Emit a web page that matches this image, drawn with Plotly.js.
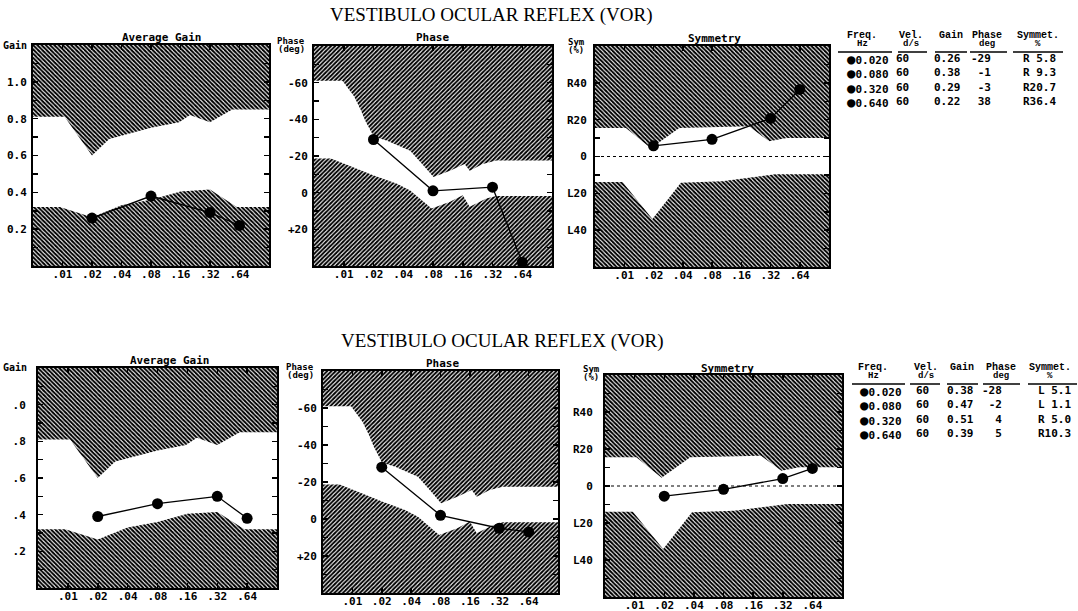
<!DOCTYPE html>
<html>
<head>
<meta charset="utf-8">
<script src="https://cdn.plot.ly/plotly-3.0.1.min.js"></script>
<style>html,body{margin:0;padding:0;background:#fff;}#chart{width:1078px;height:611px;}</style>
</head>
<body>
<div id="chart"></div>
<script>
// ---------------- data ----------------
const freqTicks = [0.01, 0.02, 0.04, 0.08, 0.16, 0.32, 0.64];
const freqTickText = ['.01', '.02', '.04', '.08', '.16', '.32', '.64'];
const testFreq = [0.02, 0.08, 0.32, 0.64];

// plotted results (top test / bottom test)
const gainTop = [0.26, 0.38, 0.29, 0.22];
const phaseTop = [-29, -1, -3, 38];
const symTop = [5.8, 9.3, 20.7, 36.4];
const gainBot = [0.39, 0.46, 0.50, 0.38];
const phaseBot = [-28, -2, 5, 7];
const symBot = [-5.5, -1.8, 4, 9.5];

// table values
const tblVel = [60, 60, 60, 60];
const tblGainTop = [0.26, 0.38, 0.29, 0.22];
const tblPhaseTop = [-29, -1, -3, 38];
const tblSymTop = [5.8, 9.3, 20.7, 36.4];
const tblGainBot = [0.38, 0.47, 0.51, 0.39];
const tblPhaseBot = [-28, -2, 4, 5];
const tblSymBot = [-5.1, -1.1, 5.0, 10.3];

// normal limits (boundaries of shaded abnormal regions)
const gainUpFreq = [0.005, 0.0105, 0.02, 0.03, 0.08, 0.155, 0.2, 0.32, 0.54, 1.28];
const gainUpVal = [0.81, 0.81, 0.60, 0.69, 0.75, 0.78, 0.82, 0.78, 0.85, 0.85];
const gainLoFreq = [0.005, 0.0094, 0.02, 0.04, 0.08, 0.16, 0.32, 0.6, 1.28];
const gainLoVal = [0.32, 0.32, 0.265, 0.33, 0.36, 0.405, 0.415, 0.32, 0.32];

const phaseUpFreq = [0.005, 0.0097, 0.0127, 0.0148, 0.0166, 0.0201, 0.0275, 0.0359, 0.047, 0.064, 0.081, 0.119, 0.167, 0.188, 0.255, 0.35, 1.28];
const phaseUpVal = [-61, -61, -52.6, -45.4, -39, -30.6, -28.3, -25.6, -22.9, -14.8, -8.5, -12, -15.7, -12, -15.7, -17.5, -17.5];
const phaseLoFreq = [0.005, 0.0074, 0.0109, 0.0201, 0.0346, 0.047, 0.0775, 0.119, 0.16, 0.188, 0.277, 0.35, 1.28];
const phaseLoVal = [-18.7, -18.7, -15.1, -9.4, -4.9, -1.2, 8.6, 5, 1.4, 7.7, 3.2, 1.8, 1.8];

const symUpFreq = [0.005, 0.0104, 0.0188, 0.0368, 0.192, 0.31, 0.47, 1.28];
const symUpVal = [15.5, 15.5, 4.5, 15.5, 16.4, 8.3, 10.1, 10.1];
const symLoFreq = [0.005, 0.0096, 0.0195, 0.0383, 0.102, 0.36, 1.28];
const symLoVal = [-13.9, -13.9, -34, -14.2, -13.4, -9.7, -9.7];

const gainTickVals = [0.1, 0.2, 0.3, 0.4, 0.5, 0.6, 0.7, 0.8, 0.9, 1.0, 1.1];
const gainTickText = ['', '0.2', '', '0.4', '', '0.6', '', '0.8', '', '1.0', ''];
const phaseTickVals = [-70, -60, -50, -40, -30, -20, -10, 0, 10, 20, 30];
const phaseTickText = ['', '-60', '', '-40', '', '-20', '', '0', '', '+20', ''];
const symTickVals = [-50, -40, -30, -20, -10, 0, 10, 20, 30, 40, 50];
const symTickText = ['', 'L40', '', 'L20', '', '0', '', 'R20', '', 'R40', ''];

// ---------------- layout helpers ----------------
const W = 1078, H = 611;
const PX = x => x / W;
const PY = y => 1 - y / H;
const MONO = 'DejaVu Sans Mono';
const HEAD = 'Liberation Mono';

const kinds = {
  gain: {range: [0, 1.2], up: [gainUpFreq, gainUpVal], lo: [gainLoFreq, gainLoVal], tv: gainTickVals, tt: gainTickText, hatch: '\\', title: 'Average Gain'},
  phase: {range: [40, -80], up: [phaseUpFreq, phaseUpVal], lo: [phaseLoFreq, phaseLoVal], tv: phaseTickVals, tt: phaseTickText, hatch: '/', title: 'Phase'},
  sym: {range: [-60, 60], up: [symUpFreq, symUpVal], lo: [symLoFreq, symLoVal], tv: symTickVals, tt: symTickText, hatch: '\\', title: 'Symmetry'}
};

const panels = [
  {n: '', kind: 'gain', px: [33, 269], py: [45, 266], pts: gainTop, tx: 161, ty: 37, ys: 2},
  {n: '2', kind: 'phase', px: [314, 552], py: [46, 266], pts: phaseTop, tx: 432, ty: 37, ys: 2},
  {n: '3', kind: 'sym', px: [595, 829], py: [46, 267], pts: symTop, tx: 714, ty: 38, ys: 4},
  {n: '4', kind: 'gain', px: [38, 277], py: [368, 588], pts: gainBot, tx: 169, ty: 360, ys: 8},
  {n: '5', kind: 'phase', px: [323, 558], py: [371, 593], pts: phaseBot, tx: 442, ty: 363, ys: 2},
  {n: '6', kind: 'sym', px: [605, 842], py: [375, 597], pts: symBot, tx: 727, ty: 368, ys: 8}
];

const traces = [];
const layout = {
  width: W, height: H,
  margin: {l: 0, r: 0, t: 0, b: 0},
  showlegend: false,
  paper_bgcolor: '#ffffff',
  plot_bgcolor: '#ffffff',
  annotations: [],
  shapes: []
};

const tickFont = {family: MONO, size: 11, color: '#000', weight: 700};

function region(freqs, vals, edge, xa, ya, hatch) {
  const n = freqs.length;
  return {
    x: freqs.concat([freqs[n - 1], freqs[0]]),
    y: vals.concat([edge, edge]),
    xaxis: xa, yaxis: ya,
    type: 'scatter', mode: 'lines',
    fill: 'toself',
    fillcolor: '#ffffff',
    fillpattern: {shape: hatch, size: 3, solidity: 0.65, fgcolor: '#000000', bgcolor: '#ffffff', fgopacity: 1},
    line: {width: 0, color: 'rgba(0,0,0,0)'},
    hoverinfo: 'skip'
  };
}

panels.forEach(p => {
  const k = kinds[p.kind];
  const xa = 'x' + p.n, ya = 'y' + p.n;
  const xKey = 'xaxis' + p.n, yKey = 'yaxis' + p.n;
  layout[xKey] = {
    domain: [PX(p.px[0]), PX(p.px[1])],
    anchor: ya,
    type: 'log',
    range: [Math.log10(0.005), Math.log10(1.28)],
    tickvals: freqTicks, ticktext: freqTickText,
    ticks: 'inside', ticklen: 5, tickwidth: 1.5, tickcolor: '#000',
    showline: true, linecolor: '#000', linewidth: 2, mirror: 'ticks',
    showgrid: false, zeroline: false, ticklabelstandoff: -3,
    tickfont: tickFont, fixedrange: true
  };
  layout[yKey] = {
    domain: [PY(p.py[1]), PY(p.py[0])],
    anchor: xa,
    range: k.range,
    tickvals: k.tv, ticktext: k.tt,
    ticks: 'inside', ticklen: 5, tickwidth: 1.5, tickcolor: '#000',
    showline: true, linecolor: '#000', linewidth: 2, mirror: 'ticks',
    showgrid: false, zeroline: false, ticklabelstandoff: p.ys,
    tickfont: tickFont, fixedrange: true
  };
  traces.push(region(k.up[0], k.up[1], k.range[1], xa, ya, k.hatch));
  traces.push(region(k.lo[0], k.lo[1], k.range[0], xa, ya, k.hatch));
  if (p.kind === 'sym') {
    layout.shapes.push({type: 'line', layer: 'below', xref: xa + ' domain', yref: ya, x0: 0, x1: 1, y0: 0, y1: 0,
      line: {color: '#000', width: 1.2, dash: 'dot'}});
  }
  traces.push({
    x: testFreq, y: p.pts, xaxis: xa, yaxis: ya,
    type: 'scatter', mode: 'lines+markers',
    line: {color: '#000', width: 1.3},
    marker: {color: '#000', size: 11},
    hoverinfo: 'skip'
  });
  layout.annotations.push({
    xref: 'paper', yref: 'paper', x: PX(p.tx), y: PY(p.ty),
    xanchor: 'center', yanchor: 'middle', showarrow: false,
    text: k.title, font: {family: MONO, size: 11, color: '#000', weight: 700}
  });
});

function note(text, x, y, size, xanchor, fam) {
  layout.annotations.push({
    xref: 'paper', yref: 'paper', x: PX(x), y: PY(y),
    xanchor: xanchor || 'center', yanchor: 'middle', showarrow: false,
    text: text, font: {family: fam || MONO, size: size, color: '#000', weight: 700}
  });
}

// axis labels
note('Gain', 1, 45, 10, 'left');
note('Gain', 1, 367, 10, 'left');
note('Phase', 291, 41, 9); note('(deg)', 291, 49, 9);
note('Phase', 300, 367, 9); note('(deg)', 300, 375, 9);
note('Sym', 576, 42, 9); note('(%)', 576, 50, 9);
note('Sym', 591, 369, 9); note('(%)', 591, 377, 9);

// main titles
const mainTitle = 'VESTIBULO OCULAR REFLEX (VOR)';
layout.annotations.push({xref: 'paper', yref: 'paper', x: PX(491), y: PY(15), xanchor: 'center', yanchor: 'middle', showarrow: false,
  text: mainTitle, font: {family: 'Liberation Serif', size: 19, color: '#000'}});
layout.annotations.push({xref: 'paper', yref: 'paper', x: PX(502), y: PY(341), xanchor: 'center', yanchor: 'middle', showarrow: false,
  text: mainTitle, font: {family: 'Liberation Serif', size: 19, color: '#000'}});

// tables
function symText(v) { return (v >= 0 ? 'R' : 'L') + Math.abs(v).toFixed(1).padStart(4, ' '); }
function table(gains, phases, syms, cfg) {
  const hs = cfg.head;
  note('Freq.', hs[0], cfg.h1, 10, 'center', HEAD); note('Hz', hs[0], cfg.h2, 9, 'center', HEAD);
  note('Vel.', hs[1], cfg.h1, 10, 'center', HEAD); note('d/s', hs[1], cfg.h2, 9, 'center', HEAD);
  note('Gain', hs[2], cfg.h1, 10, 'center', HEAD);
  note('Phase', hs[3], cfg.h1, 10, 'center', HEAD); note('deg', hs[3], cfg.h2, 9, 'center', HEAD);
  note('Symmet.', hs[4], cfg.h1, 10, 'center', HEAD); note('%', hs[4], cfg.h2, 9, 'center', HEAD);
  cfg.lines.forEach(s => layout.shapes.push({type: 'line', xref: 'paper', yref: 'paper',
    x0: PX(s[0]), x1: PX(s[1]), y0: PY(cfg.ly), y1: PY(cfg.ly), line: {color: '#000', width: 1.5}}));
  const cols = [
    testFreq.map(f => '<span style="font-size:14px">●</span>' + f.toFixed(3)),
    tblVel.map(v => String(v)),
    gains.map(g => g.toFixed(2)),
    phases.map(v => String(v)),
    syms.map(symText)
  ];
  cols.forEach((c, i) => {
    layout.annotations.push({xref: 'paper', yref: 'paper', x: PX(cfg.right[i]), y: PY(cfg.mid),
      xanchor: 'right', yanchor: 'middle', align: 'right', showarrow: false,
      text: c.map(s => s.replace(/ (?![^<]*>)/g, '&nbsp;')).join('<br>'),
      font: {family: MONO, size: 11, color: '#000', weight: 700}});
  });
}
table(tblGainTop, tblPhaseTop, tblSymTop, {
  head: [862, 911, 951, 987, 1038], h1: 35, h2: 44, ly: 52,
  lines: [[838, 892], [898, 927], [935, 967], [970, 1007], [1013, 1063]],
  right: [891, 911, 963, 993, 1058], mid: 80.5
});
table(tblGainBot, tblPhaseBot, tblSymBot, {
  head: [873, 926, 962, 1001, 1050], h1: 367, h2: 376, ly: 384,
  lines: [[852, 905], [910, 940], [947, 978], [983, 1020], [1028, 1077]],
  right: [904, 931, 976, 1004, 1073], mid: 412
});

// the scanned page is trimmed at the left edge of the lower chart
layout.shapes.push({type: 'rect', layer: 'above', xref: 'paper', yref: 'paper',
  x0: 0, x1: PX(14), y0: 0, y1: PY(380), fillcolor: '#ffffff', line: {width: 0}});

Plotly.newPlot('chart', traces, layout, {staticPlot: true, displayModeBar: false});
</script>
</body>
</html>
